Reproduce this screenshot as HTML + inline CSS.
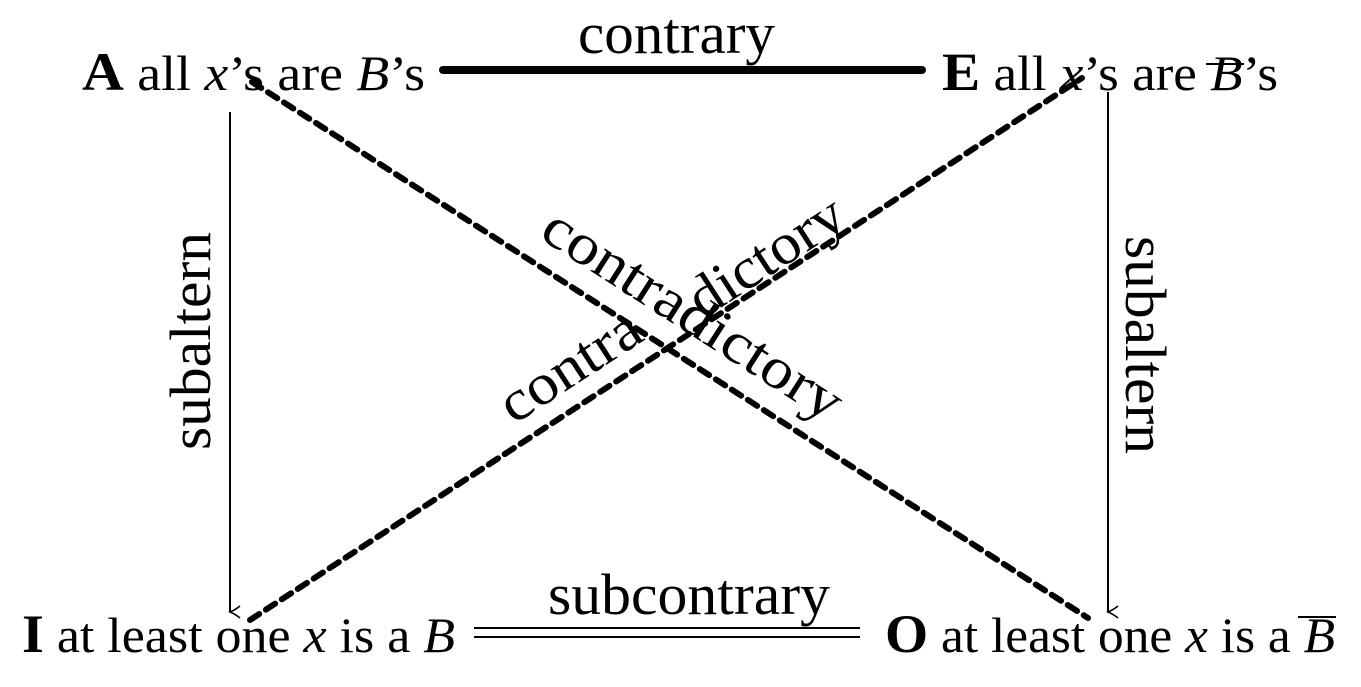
<!DOCTYPE html>
<html><head><meta charset="utf-8"><style>
html,body{margin:0;padding:0;background:#fff;}
svg{display:block;font-family:"Liberation Serif",serif;}
</style></head><body>
<svg width="1361" height="687" viewBox="0 0 1361 687" xmlns="http://www.w3.org/2000/svg">
<defs><marker id="ar" markerWidth="14" markerHeight="14" refX="7" refY="12" orient="auto-start-reverse" markerUnits="userSpaceOnUse">
<path d="M1,2 Q5,7 7,12 Q9,7 13,2" fill="none" stroke="#000" stroke-width="1.6"/></marker></defs>
<g fill="#000">
<text x="82" y="90" font-size="50" textLength="343" lengthAdjust="spacingAndGlyphs"><tspan font-weight="bold" font-size="54">A</tspan> all <tspan font-style="italic">x</tspan>’s are <tspan font-style="italic">B</tspan>’s</text>
<text x="942" y="90" font-size="50" textLength="336" lengthAdjust="spacingAndGlyphs"><tspan font-weight="bold" font-size="54">E</tspan> all <tspan font-style="italic">x</tspan>’s are <tspan font-style="italic">B</tspan>’s</text>
<line x1="1206" y1="64" x2="1244" y2="64" stroke="#000" stroke-width="2"/>
<text x="22" y="652" font-size="50" textLength="433" lengthAdjust="spacingAndGlyphs"><tspan font-weight="bold" font-size="54">I</tspan> at least one <tspan font-style="italic">x</tspan> is a <tspan font-style="italic">B</tspan></text>
<text x="885" y="652" font-size="50" textLength="450" lengthAdjust="spacingAndGlyphs"><tspan font-weight="bold" font-size="54">O</tspan> at least one <tspan font-style="italic">x</tspan> is a <tspan font-style="italic">B</tspan></text>
<line x1="1298" y1="617" x2="1336" y2="617" stroke="#000" stroke-width="2"/>
<text x="578" y="53" font-size="58" textLength="197" lengthAdjust="spacingAndGlyphs">contrary</text>
<text x="548" y="614" font-size="58" textLength="282" lengthAdjust="spacingAndGlyphs">subcontrary</text>
<text transform="translate(210,341) rotate(-90)" font-size="58" text-anchor="middle" textLength="218" lengthAdjust="spacingAndGlyphs">subaltern</text>
<text transform="translate(1126,345) rotate(90)" font-size="58" text-anchor="middle" textLength="218" lengthAdjust="spacingAndGlyphs">subaltern</text>
<text transform="translate(683,330) rotate(32.6)" font-size="58" text-anchor="middle" textLength="345" lengthAdjust="spacingAndGlyphs">contradictory</text>
<text transform="translate(580,382) rotate(-33)" font-size="58" text-anchor="middle" textLength="158" lengthAdjust="spacingAndGlyphs">contra</text>
<text transform="translate(776,272) rotate(-33)" font-size="58" text-anchor="middle" textLength="175" lengthAdjust="spacingAndGlyphs">dictory</text>
</g>
<line x1="443" y1="70" x2="922" y2="70" stroke="#000" stroke-width="8" stroke-linecap="round"/>
<line x1="474" y1="628" x2="860" y2="628" stroke="#000" stroke-width="2"/>
<line x1="474" y1="637" x2="860" y2="637" stroke="#000" stroke-width="2"/>
<line x1="230" y1="112" x2="230" y2="612" stroke="#000" stroke-width="2" marker-end="url(#ar)"/>
<line x1="1108" y1="92" x2="1108" y2="612" stroke="#000" stroke-width="2" marker-end="url(#ar)"/>
<line x1="252" y1="82" x2="1088" y2="618" stroke="#000" stroke-width="6" stroke-dasharray="11 8" stroke-linecap="round"/>
<line x1="250" y1="620" x2="1082" y2="78" stroke="#000" stroke-width="6" stroke-dasharray="11 8" stroke-linecap="round"/>
</svg>
</body></html>
